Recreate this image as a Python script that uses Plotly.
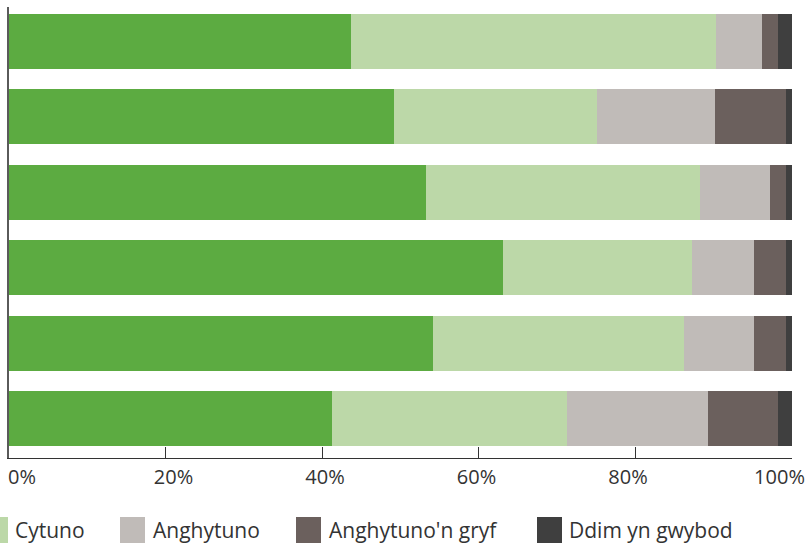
import plotly.graph_objects as go

categories = ["Datganiad 1", "Datganiad 2", "Datganiad 3", "Datganiad 4", "Datganiad 5", "Datganiad 6"]
series_names = ["Cytuno'n gryf", "Cytuno", "Anghytuno", "Anghytuno'n gryf", "Ddim yn gwybod"]
cytuno_gryf = [43.7, 49.2, 53.2, 63.1, 54.2, 41.2]
cytuno = [46.6, 25.9, 35.1, 24.1, 32.0, 30.0]
anghytuno = [5.9, 15.1, 8.9, 7.9, 8.9, 18.1]
anghytuno_gryf = [2.0, 9.0, 2.0, 4.1, 4.1, 8.9]
ddim_yn_gwybod = [1.8, 0.8, 0.8, 0.8, 0.8, 1.8]
tick_values = [0, 20, 40, 60, 80, 100]
tick_labels = ["0%", "20%", "40%", "60%", "80%", "100%"]

colors = ["#5cab41", "#bcd8a8", "#c0bbb8", "#6b605d", "#3f3f3f"]
series = [cytuno_gryf, cytuno, anghytuno, anghytuno_gryf, ddim_yn_gwybod]
FONT = "Open Sans"
TXT = "#333333"

fig = go.Figure()
for name, vals, col in zip(series_names, series, colors):
    fig.add_trace(go.Bar(
        y=categories, x=vals, name=name, orientation="h",
        marker=dict(color=col, line=dict(width=0)),
        showlegend=False, hoverinfo="x+name",
    ))

# invisible trace to carry the tick-label axis
fig.add_trace(go.Scatter(x=[0], y=[categories[0]], xaxis="x2", mode="markers",
                         marker=dict(opacity=0), showlegend=False, hoverinfo="skip"))

fig.update_layout(
    width=809, height=545,
    margin=dict(l=9, r=16.5, t=7, b=87, autoexpand=False),
    barmode="stack", bargap=0.27,
    paper_bgcolor="white", plot_bgcolor="white",
    font=dict(family=FONT, color=TXT, size=20),
    xaxis=dict(range=[0, 100], tickvals=tick_values, showticklabels=False,
               ticks="inside", ticklen=11, tickwidth=1, tickcolor="#333333",
               showline=True, linecolor="#333333", linewidth=1,
               showgrid=False, zeroline=False, fixedrange=True, automargin=False),
    xaxis2=dict(overlaying="x", side="bottom", anchor="y",
                range=[-1.715, 101.65], tickvals=tick_values, ticktext=tick_labels,
                ticks="", showline=False, showgrid=False, zeroline=False,
                ticklabelstandoff=5,
                tickfont=dict(family=FONT, size=20, color=TXT), fixedrange=True,
                automargin=False),
    yaxis=dict(categoryorder="array", categoryarray=categories,
               range=[5.524, -0.458], showticklabels=False, ticks="",
               showline=True, linecolor="#5a5a5a", linewidth=1.5,
               showgrid=False, zeroline=False, fixedrange=True, automargin=False),
)

# custom legend (bottom), pixel-positioned relative to the plot origin (9px, 458px)
legend_items = [
    (series_names[1], colors[1], -17, 13),
    (series_names[2], colors[2], 120, 151),
    (series_names[3], colors[3], 296, 327),
    (series_names[4], colors[4], 537, 567),
]
for name, col, sx, tx in legend_items:
    fig.add_shape(type="rect", xref="paper", yref="paper",
                  xsizemode="pixel", ysizemode="pixel", xanchor=0, yanchor=0,
                  x0=sx - 9, x1=sx - 9 + 25, y0=-59, y1=-85,
                  fillcolor=col, line=dict(width=0), layer="above")
    fig.add_annotation(x=0, y=0, xref="paper", yref="paper",
                       xshift=tx - 9, yshift=-72, xanchor="left", yanchor="middle",
                       text=name, showarrow=False,
                       font=dict(family=FONT, size=21, color=TXT))

fig.write_html("out.html", config={"displayModeBar": False},
               post_script="document.body.style.margin='0px';")
